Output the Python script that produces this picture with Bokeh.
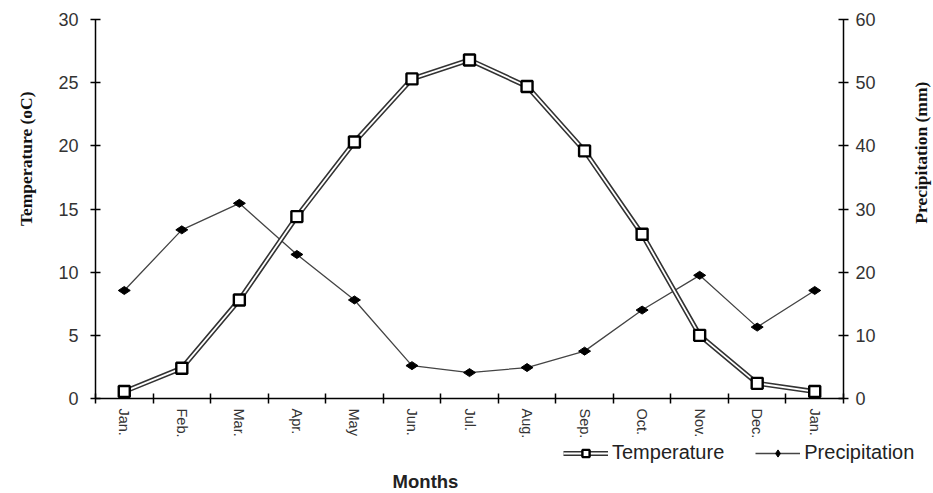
import math
from bokeh.plotting import figure
from bokeh.layouts import row, column
from bokeh.models import (Range1d, LinearAxis, FixedTicker, Legend, LegendItem, Label)
from bokeh.embed import file_html
from bokeh.resources import INLINE

months = ["Jan.", "Feb.", "Mar.", "Apr.", "May", "Jun.", "Jul.", "Aug.", "Sep.", "Oct.", "Nov.", "Dec.", "Jan."]
temperature = [0.55, 2.4, 7.8, 14.4, 20.3, 25.3, 26.8, 24.7, 19.6, 13.0, 5.0, 1.2, 0.55]
precipitation = [17.1, 26.7, 30.9, 22.8, 15.6, 5.2, 4.1, 4.9, 7.5, 14.0, 19.5, 11.3, 17.1]
temp_ticks = [0, 5, 10, 15, 20, 25, 30]
prec_ticks = [0, 10, 20, 30, 40, 50, 60]

xs = list(range(1, len(months) + 1))

label_font = "Liberation Sans"
title_font = "Liberation Serif"

OUTER = dict(line_color="#333333", line_width=5)
INNER = dict(line_color="white", line_width=1.8)
SQUARE = dict(marker="square", size=11, fill_color="white", line_color="black", line_width=2.4)
PLINE = dict(line_color="#444444", line_width=1.3)
DIAMOND = dict(marker="diamond", size=12, angle=math.pi / 2, fill_color="black", line_color="black")


def blank_figure(w, h):
    f = figure(width=w, height=h, output_backend="svg", toolbar_location=None,
               x_range=Range1d(0, w), y_range=Range1d(0, h),
               min_border=0, x_axis_location=None, y_axis_location=None)
    f.outline_line_color = None
    f.xgrid.visible = False
    f.ygrid.visible = False
    return f


# ---- main chart ----
p = figure(width=840, height=441, output_backend="svg", toolbar_location=None,
           x_range=Range1d(0.5, len(months) + 0.5), y_range=Range1d(0, 30),
           min_border_left=50, min_border_right=42, min_border_top=19, min_border_bottom=40,
           x_axis_location=None, y_axis_location=None)
p.outline_line_color = None
p.xgrid.visible = False
p.ygrid.visible = False
p.extra_y_ranges = {"prec": Range1d(0, 60)}


def style_axis(ax):
    ax.axis_line_color = "black"
    ax.axis_line_width = 1.5
    ax.major_tick_line_color = "black"
    ax.major_tick_line_width = 1.5
    ax.minor_tick_line_color = "black"
    ax.minor_tick_line_width = 1.5
    ax.major_label_text_font = label_font
    ax.major_label_text_font_size = "18px"
    ax.major_label_text_color = "#333333"


xaxis = LinearAxis(ticker=FixedTicker(ticks=xs, minor_ticks=[x - 0.5 for x in xs] + [len(xs) + 0.5]))
style_axis(xaxis)
xaxis.major_label_overrides = {x: m for x, m in zip(xs, months)}
xaxis.major_tick_in = 0
xaxis.major_tick_out = 0
xaxis.minor_tick_in = 5
xaxis.minor_tick_out = 5
xaxis.major_label_orientation = -math.pi / 2
xaxis.major_label_standoff = 5
xaxis.major_label_text_font_size = "14.5px"
p.add_layout(xaxis, "below")

yaxis = LinearAxis(ticker=FixedTicker(ticks=temp_ticks))
style_axis(yaxis)
yaxis.major_tick_in = 5
yaxis.major_tick_out = 5
yaxis.minor_tick_in = 0
yaxis.minor_tick_out = 0
yaxis.major_label_standoff = 12
p.add_layout(yaxis, "left")

raxis = LinearAxis(y_range_name="prec", ticker=FixedTicker(ticks=prec_ticks))
style_axis(raxis)
raxis.major_tick_in = 5
raxis.major_tick_out = 5
raxis.minor_tick_in = 0
raxis.minor_tick_out = 0
raxis.major_label_standoff = 7
p.add_layout(raxis, "right")

# precipitation
p.line(xs, precipitation, y_range_name="prec", **PLINE)
p.scatter(xs, precipitation, y_range_name="prec", **DIAMOND)

# temperature: double line with open squares
p.line(xs, temperature, **OUTER)
p.line(xs, temperature, **INNER)
p.scatter(xs, temperature, **SQUARE)

# ---- side figures holding the axis titles ----
left = blank_figure(45, 441)
left.add_layout(Label(x=25, y=279, text="Temperature (oC)", angle=math.pi / 2,
                      text_align="center", text_baseline="middle", text_font=title_font,
                      text_font_style="bold", text_font_size="17.5px", text_color="#111111"))

right = blank_figure(48, 441)
right.add_layout(Label(x=35, y=286, text="Precipitation (mm)", angle=math.pi / 2,
                       text_align="center", text_baseline="middle", text_font=title_font,
                       text_font_style="bold", text_font_size="17.5px", text_color="#111111"))

# ---- bottom strip: legend and x-axis title ----
bottom = blank_figure(933, 52)
# legend renderers carry the real series but sit on a range far outside the strip
bottom.extra_x_ranges = {"off": Range1d(1000, 2000)}
bottom.extra_y_ranges = {"off": Range1d(1000, 2000)}
off = dict(x_range_name="off", y_range_name="off")
t1 = bottom.line(xs, temperature, **OUTER, **off)
t2 = bottom.line(xs, temperature, **INNER, **off)
tm = bottom.scatter(xs, temperature, **SQUARE, **off)
pl = bottom.line(xs, precipitation, **PLINE, **off)
pm = bottom.scatter(xs, precipitation, **DIAMOND, **off)

legend = Legend(items=[LegendItem(label="Temperature", renderers=[t1, t2, tm]),
                       LegendItem(label="Precipitation", renderers=[pl, pm])],
                orientation="horizontal", location=(563, 29))
legend.border_line_color = None
legend.background_fill_alpha = 0
legend.padding = 0
legend.margin = 0
legend.spacing = 31
legend.glyph_width = 45
legend.glyph_height = 18
legend.label_height = 18
legend.label_standoff = 4
legend.label_text_font = label_font
legend.label_text_font_size = "20px"
legend.label_text_color = "#222222"
bottom.add_layout(legend, "center")

bottom.add_layout(Label(x=425, y=12, text="Months", text_align="center", text_baseline="middle",
                        text_font=label_font, text_font_style="bold", text_font_size="18.5px",
                        text_color="#222222"))

layout = column(row(left, p, right), bottom)
open("out.html", "w").write(file_html(layout, INLINE))
